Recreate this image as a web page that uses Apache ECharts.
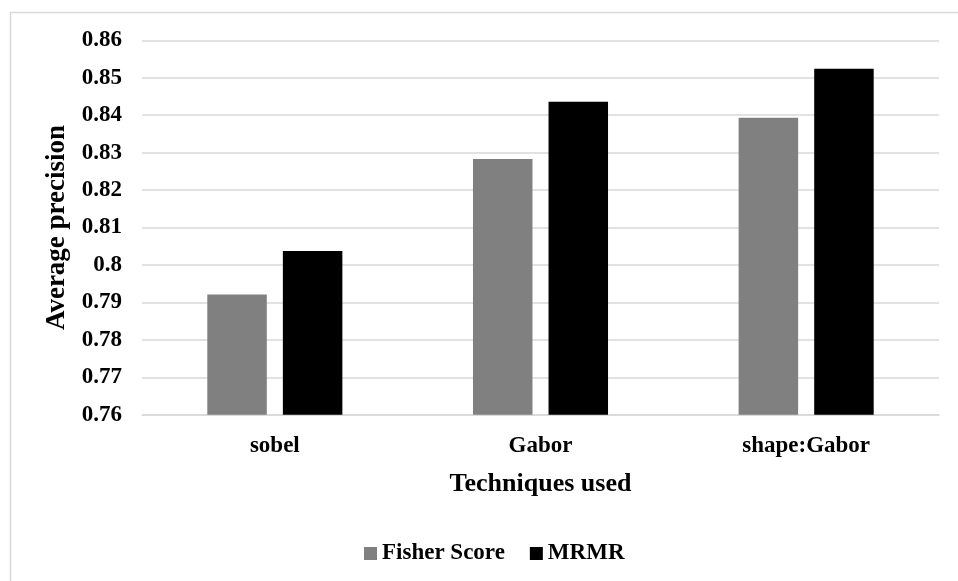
<!DOCTYPE html>
<html>
<head>
<meta charset="utf-8">
<script src="https://cdn.jsdelivr.net/npm/echarts@6/dist/echarts.min.js"></script>
<style>
html,body{margin:0;padding:0;background:#fff;}
#chart{width:958px;height:581px;}
</style>
</head>
<body>
<div id="chart"></div>
<script>
const categories = ['sobel', 'Gabor', 'shape:Gabor'];
const fisherScore = [0.7921, 0.8283, 0.8393];
const mrmr = [0.8037, 0.8436, 0.8524];
const yMin = 0.76, yMax = 0.86, yStep = 0.01;

const font = 'Liberation Serif, Times New Roman, serif';
const chart = echarts.init(document.getElementById('chart'), null, {renderer: 'canvas'});
chart.setOption({
  backgroundColor: '#ffffff',
  animation: false,
  graphic: [{
    type: 'rect', left: 8, top: 10, z: -1,
    shape: {width: 990, height: 620},
    style: {fill: 'none', stroke: '#d9d9d9', lineWidth: 1.5}
  }],
  grid: {left: 142, right: 19, top: 40.3, bottom: 166.3},
  legend: {
    left: 359, top: 537,
    itemWidth: 13, itemHeight: 13, itemGap: 25,
    icon: 'rect',
    textStyle: {fontFamily: font, fontWeight: 'bold', fontSize: 23, color: '#000'},
    data: ['Fisher Score', 'MRMR']
  },
  xAxis: {
    type: 'category',
    data: categories,
    name: 'Techniques used',
    nameLocation: 'middle',
    nameGap: 57,
    nameTextStyle: {fontFamily: font, fontWeight: 'bold', fontSize: 26, color: '#000'},
    axisLine: {lineStyle: {color: '#d9d9d9', width: 1.5}},
    axisTick: {show: false},
    axisLabel: {margin: 20, fontFamily: font, fontWeight: 'bold', fontSize: 23, color: '#000'}
  },
  yAxis: {
    type: 'value',
    min: yMin, max: yMax, interval: yStep,
    name: 'Average precision',
    nameLocation: 'middle',
    nameGap: 70,
    nameTextStyle: {fontFamily: font, fontWeight: 'bold', fontSize: 27, color: '#000'},
    axisLine: {show: false},
    axisTick: {show: false},
    splitLine: {lineStyle: {color: '#d9d9d9', width: 1.5}},
    axisLabel: {margin: 20, fontFamily: font, fontWeight: 'bold', fontSize: 23, color: '#000',
      formatter: v => String(Math.round(v * 100) / 100)}
  },
  series: [
    {name: 'Fisher Score', type: 'bar', data: fisherScore, barWidth: 59.5, barGap: '27%',
      itemStyle: {color: '#808080'}},
    {name: 'MRMR', type: 'bar', data: mrmr, barWidth: 59.5, barGap: '27%',
      itemStyle: {color: '#000000'}}
  ]
});
</script>
</body>
</html>
